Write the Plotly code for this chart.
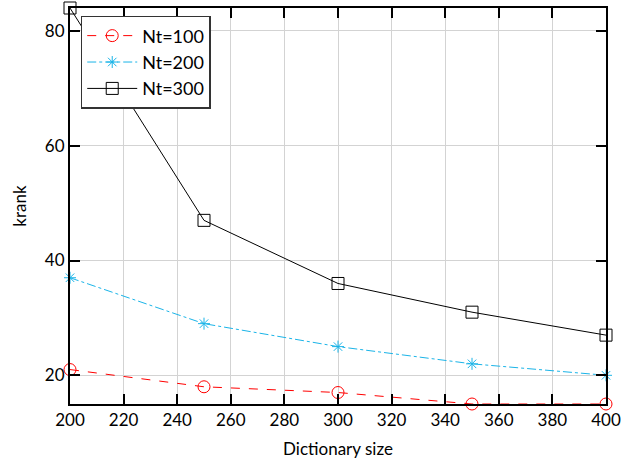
import plotly.graph_objects as go

dict_size = [200, 250, 300, 350, 400]
nt100 = [21, 18, 17, 15, 15]
nt200 = [37, 29, 25, 22, 20]
nt300 = [84, 47, 36, 31, 27]
x_ticks = list(range(200, 401, 20))
y_ticks = [20, 40, 60, 80]

FONT = "Lato"
FS = 17

fig = go.Figure()
fig.add_trace(go.Scatter(x=dict_size, y=nt100, name="Nt=100", mode="lines+markers",
                         line=dict(color="red", width=1, dash="dash"),
                         marker=dict(symbol="circle-open", size=12, color="red", line=dict(width=1)),
                         cliponaxis=False))
fig.add_trace(go.Scatter(x=dict_size, y=nt200, name="Nt=200", mode="lines+markers",
                         line=dict(color="#1AB4E8", width=1, dash="dashdot"),
                         marker=dict(symbol="asterisk-open", size=10, color="#1AB4E8", line=dict(width=1, color="#1AB4E8")),
                         cliponaxis=False))
fig.add_trace(go.Scatter(x=dict_size, y=nt300, name="Nt=300", mode="lines+markers",
                         line=dict(color="black", width=1),
                         marker=dict(symbol="square-open", size=12, color="black", line=dict(width=1)),
                         cliponaxis=False))

axis_common = dict(showline=True, linecolor="black", linewidth=2, mirror="ticks",
                   ticks="inside", ticklen=10, tickwidth=2, tickcolor="black",
                   showgrid=True, gridcolor="#D3D3D3", gridwidth=1, zeroline=False,
                   ticklabeloverflow="allow", automargin=False,
                   tickfont=dict(family=FONT, size=FS, color="black"))

fig.update_xaxes(range=[200, 400], tickvals=x_ticks, ticktext=[str(v) for v in x_ticks],
                 title=dict(text="Dictionary size", font=dict(family=FONT, size=FS, color="black"), standoff=14),
                 **axis_common)
fig.update_yaxes(range=[15, 84], tickvals=y_ticks, ticktext=[str(v) for v in y_ticks],
                 title=dict(text="krank", font=dict(family=FONT, size=FS, color="black"), standoff=14),
                 **axis_common)

fig.update_layout(
    width=622, height=462,
    margin=dict(l=70, r=16, t=8, b=58),
    paper_bgcolor="white", plot_bgcolor="white",
    font=dict(family=FONT, size=FS, color="black"),
    legend=dict(x=0.02, y=0.98, xanchor="left", yanchor="top",
                bgcolor="white", bordercolor="#333333", borderwidth=1.5,
                font=dict(family=FONT, size=18, color="black"),
                itemwidth=50, tracegroupgap=0),
    showlegend=True,
)

fig.write_html("out.html")
